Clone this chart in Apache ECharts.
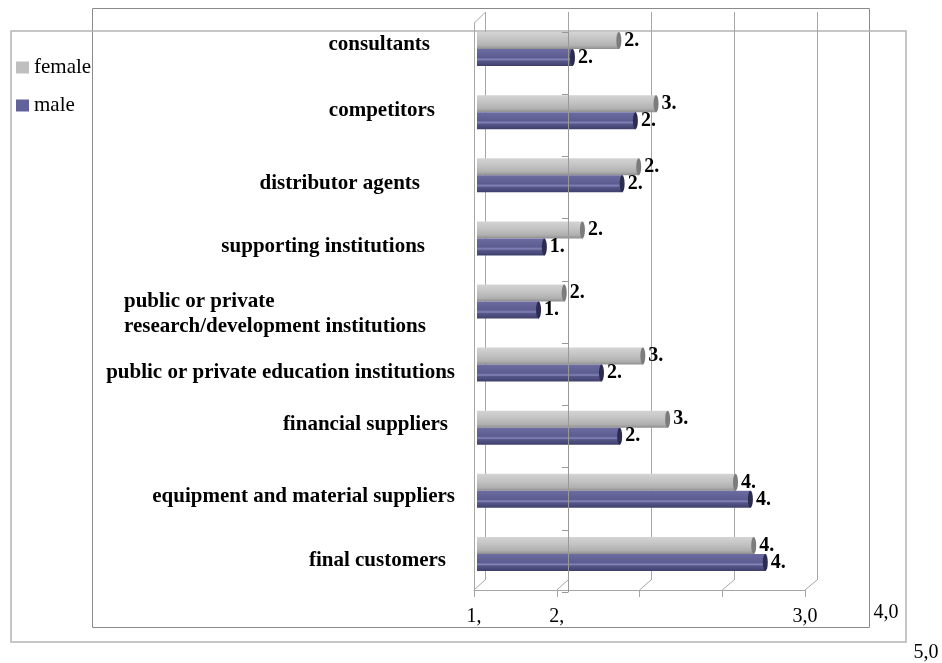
<!DOCTYPE html>
<html>
<head>
<meta charset="utf-8">
<script src="https://cdn.jsdelivr.net/npm/echarts@6/dist/echarts.min.js"></script>
<style>
  html, body { margin: 0; padding: 0; background: #fff; }
  #chart { width: 942px; height: 663px; }
</style>
</head>
<body>
<div id="chart"></div>
<script>
// categories from top to bottom
const categories = [
    'consultants',
    'competitors',
    'distributor agents',
    'supporting institutions',
    'public or private\nresearch/development institutions',
    'public or private education institutions',
    'financial suppliers',
    'equipment and material suppliers',
    'final customers'
];
const female = [2.72, 3.17, 2.96, 2.28, 2.06, 3.01, 3.31, 4.13, 4.35];
const male = [2.16, 2.92, 2.76, 1.82, 1.75, 2.51, 2.73, 4.31, 4.49];
// tick labels as they appear (the original file shows them cut off)
const tickLabels = ['1,', '2,', '', '', '3,0'];
const strayLabels = ['4,0', '5,0'];
// label nudges [right padding, down shift] in px, per category
const labelNudge = [[25, -4], [20, -2], [35, 8], [30, 8], [25, 13], [0, 8], [7, -3], [0, 6], [9, 7]];

const serif = '"Liberation Serif", "Times New Roman", serif';
const gridGray = '#a6a6a6';

let myChart = echarts.init(document.getElementById('chart'));

const femaleColor = new echarts.graphic.LinearGradient(0, 0, 0, 1, [
    { offset: 0, color: '#d4d4d4' },
    { offset: 0.45, color: '#c2c2c2' },
    { offset: 0.8, color: '#b0b0b0' },
    { offset: 1, color: '#8e8e8e' }
]);
const maleColor = new echarts.graphic.LinearGradient(0, 0, 0, 1, [
    { offset: 0, color: '#6c6ca2' },
    { offset: 0.5, color: '#5c5c90' },
    { offset: 0.62, color: '#8484b8' },
    { offset: 0.7, color: '#56568a' },
    { offset: 1, color: '#3f3f6c' }
]);

const catData = categories.map((c, i) => {
    const [dx, dy] = labelNudge[i];
    return {
        value: c,
        textStyle: {
            padding: [dy > 0 ? dy * 2 : 0, dx, dy < 0 ? -dy * 2 : 0, 0]
        }
    };
});

const barLabel = {
    show: true,
    position: 'right',
    distance: 5,
    formatter: p => Math.floor(p.value) + '.',
    fontFamily: serif,
    fontWeight: 'bold',
    fontSize: 20,
    color: '#000'
};

let baseOption = {
    backgroundColor: '#fff',
    animation: false,
    legend: {
        data: [
            { name: 'female', itemStyle: { color: '#bfbfbf' } },
            { name: 'male', itemStyle: { color: '#62629a' } }
        ],
        orient: 'vertical',
        left: 11,
        top: 52,
        icon: 'rect',
        itemWidth: 13,
        itemHeight: 12,
        itemGap: 17,
        textStyle: { fontFamily: serif, fontSize: 21, color: '#000' }
    },
    grid: [
        { left: 477, top: 17.5, width: 331, height: 568, outerBoundsMode: 'none' }, // bars
        { left: 485, top: 12, width: 332, height: 568, outerBoundsMode: 'none' },   // back wall
        { left: 474, top: 23, width: 331, height: 567, outerBoundsMode: 'none' },   // front floor
        { left: 568, top: 32, width: 249, height: 560, outerBoundsMode: 'none' }    // category axis line
    ],
    xAxis: [
        { gridIndex: 0, type: 'value', min: 1, max: 5, show: false },
        {
            gridIndex: 1, type: 'value', min: 1, max: 5, interval: 1,
            axisLine: { show: false }, axisTick: { show: false }, axisLabel: { show: false },
            splitLine: { show: true, lineStyle: { color: gridGray } }
        },
        {
            gridIndex: 2, type: 'value', min: 1, max: 5, interval: 1, position: 'bottom',
            axisLine: { show: true, onZero: false, lineStyle: { color: gridGray } },
            axisTick: { show: true, length: 7, lineStyle: { color: gridGray } },
            axisLabel: {
                formatter: v => tickLabels[Math.round(v) - 1] || '',
                margin: 17, fontFamily: serif, fontSize: 20, color: '#000'
            },
            splitLine: { show: false }
        },
        { gridIndex: 3, type: 'value', min: 0, max: 1, show: false }
    ],
    yAxis: [
        {
            gridIndex: 0, type: 'category', inverse: true, data: catData,
            axisLine: { show: false }, axisTick: { show: false },
            axisLabel: {
                margin: 22,
                fontFamily: serif, fontWeight: 'bold', fontSize: 21, color: '#000',
                formatter: v => v.indexOf('\n') >= 0
                    ? v.split('\n').map(s => '{ml|' + s + '}').join('\n')
                    : v,
                rich: {
                    ml: { width: 306, align: 'left', fontFamily: serif, fontWeight: 'bold', fontSize: 21, color: '#000', lineHeight: 25 }
                }
            }
        },
        { gridIndex: 1, type: 'category', data: categories, show: false },
        {
            gridIndex: 2, type: 'value', min: 0, max: 1,
            axisLine: { show: true, onZero: false, lineStyle: { color: gridGray } },
            axisTick: { show: false }, axisLabel: { show: false }, splitLine: { show: false }
        },
        {
            gridIndex: 3, type: 'category', inverse: true, data: categories, z: 10,
            axisLine: { show: true, onZero: false, lineStyle: { color: '#989898' } },
            axisTick: { show: true, length: 6, lineStyle: { color: '#989898' } },
            axisLabel: { show: false }
        }
    ],
    series: [
        {
            name: 'female', type: 'bar', xAxisIndex: 0, yAxisIndex: 0,
            data: female, barWidth: 17, barGap: '0%',
            itemStyle: { color: femaleColor },
            label: barLabel
        },
        {
            name: 'male', type: 'bar', xAxisIndex: 0, yAxisIndex: 0,
            data: male, barWidth: 17, barGap: '0%',
            itemStyle: { color: maleColor },
            label: barLabel
        },
        {
            name: 'female end', type: 'pictorialBar', xAxisIndex: 0, yAxisIndex: 0,
            data: female, barWidth: 17, barGap: '0%', z: 3,
            symbol: 'circle', symbolSize: [5, 17], symbolPosition: 'end', symbolOffset: [2, 0],
            itemStyle: { color: '#7c7c7c' }
        },
        {
            name: 'male end', type: 'pictorialBar', xAxisIndex: 0, yAxisIndex: 0,
            data: male, barWidth: 17, barGap: '0%', z: 3,
            symbol: 'circle', symbolSize: [5, 17], symbolPosition: 'end', symbolOffset: [2, 0],
            itemStyle: { color: '#2c2c50' }
        }
    ]
};

myChart.setOption(baseOption);

// frames, floor edges and the stray tick labels
const line = (x1, y1, x2, y2, color) => ({
    type: 'line', silent: true,
    shape: { x1, y1, x2, y2 },
    style: { stroke: color || gridGray, lineWidth: 1 }
});
let graphics = [
    { type: 'rect', silent: true, shape: { x: 92.5, y: 8.5, width: 777, height: 619 }, style: { fill: null, stroke: '#8a8a8a', lineWidth: 1 }, z: -1 },
    { type: 'rect', silent: true, shape: { x: 11, y: 31, width: 895, height: 611 }, style: { fill: null, stroke: '#b4b4b4', lineWidth: 1.5 }, z: -1 },
    line(474.5, 23, 485, 12.5)
];
for (let v = 1; v <= 5; v++) {
    const xf = myChart.convertToPixel({ xAxisIndex: 2 }, v);
    const xb = myChart.convertToPixel({ xAxisIndex: 1 }, v);
    graphics.push(line(xf, 590, xb, 580));
}
graphics.push({
    type: 'text', silent: true, x: 886, y: 613,
    style: { text: strayLabels[0], font: '20px ' + serif, fill: '#000', align: 'center', verticalAlign: 'middle' }
});
graphics.push({
    type: 'text', silent: true, x: 926, y: 653,
    style: { text: strayLabels[1], font: '20px ' + serif, fill: '#000', align: 'center', verticalAlign: 'middle' }
});
myChart.setOption({ graphic: graphics });
</script>
</body>
</html>
